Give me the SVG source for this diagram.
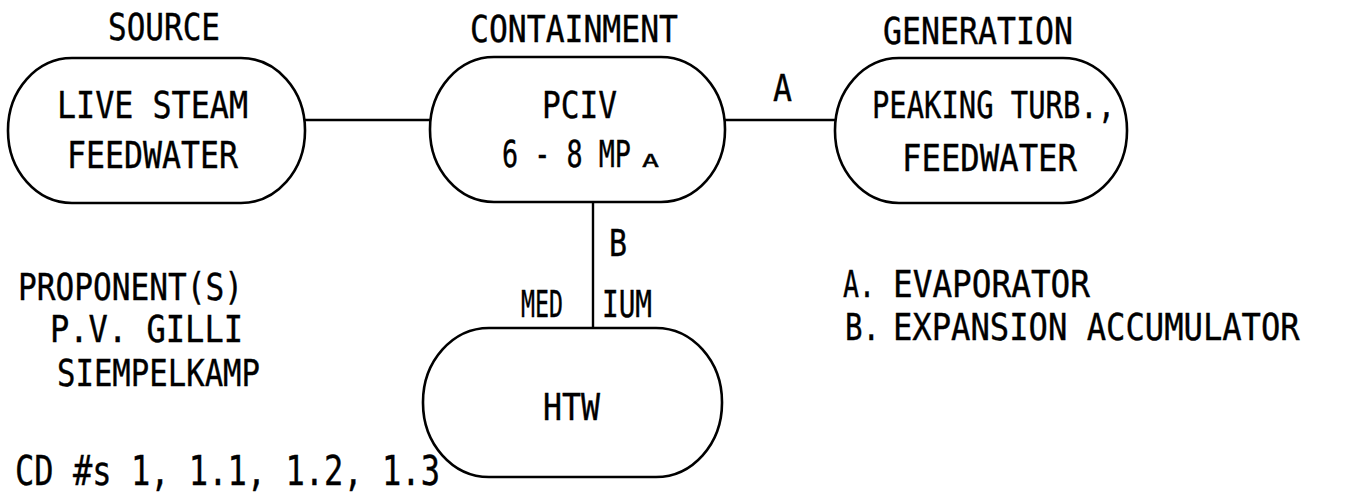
<svg xmlns="http://www.w3.org/2000/svg" width="1348" height="499" viewBox="0 0 1348 499">
<style>
.n{fill:#fff;stroke:#000;stroke-width:2.6}
.c{stroke:#000;stroke-width:2.4;fill:none}
text{font-family:"DejaVu Sans Mono","Liberation Mono",monospace;font-size:37px;fill:#000;stroke:#000;stroke-width:0.4}
.big{font-size:41px}
.sm{font-size:17px}
</style>
<rect width="1348" height="499" fill="#fff"/>
<g id="connectors">
<line class="c" x1="305" y1="120" x2="431" y2="120"/>
<line class="c" x1="725" y1="120" x2="836" y2="120"/>
<line class="c" x1="593" y1="201" x2="593" y2="329"/>
<text x="773" y="101" textLength="19" lengthAdjust="spacingAndGlyphs">A</text>
<text x="609" y="256" textLength="18" lengthAdjust="spacingAndGlyphs">B</text>
<text x="521" y="317" textLength="42" lengthAdjust="spacingAndGlyphs">MED</text>
<text x="602" y="317" textLength="50" lengthAdjust="spacingAndGlyphs">IUM</text>
</g>
<g id="source">
<text x="108" y="40" textLength="112" lengthAdjust="spacingAndGlyphs">SOURCE</text>
<rect class="n" x="8" y="58" width="297" height="145" rx="64" ry="72"/>
<text x="57" y="118" textLength="191" lengthAdjust="spacingAndGlyphs">LIVE STEAM</text>
<text x="67" y="168" textLength="171" lengthAdjust="spacingAndGlyphs">FEEDWATER</text>
</g>
<g id="containment">
<text x="470" y="42" textLength="208" lengthAdjust="spacingAndGlyphs">CONTAINMENT</text>
<rect class="n" x="430" y="57" width="295" height="145" rx="64" ry="72"/>
<text x="542" y="118" textLength="75" lengthAdjust="spacingAndGlyphs">PCIV</text>
<text transform="translate(502,167) scale(0.7235,1)" x="0" y="0">6 - 8 MP</text>
<text x="642" y="167" class="sm" textLength="17" lengthAdjust="spacingAndGlyphs">A</text>
</g>
<g id="generation">
<text x="883" y="44" textLength="190" lengthAdjust="spacingAndGlyphs">GENERATION</text>
<rect class="n" x="835" y="58" width="292" height="145" rx="64" ry="72"/>
<text x="872" y="118" textLength="243" lengthAdjust="spacingAndGlyphs">PEAKING TURB.,</text>
<text x="902" y="171" textLength="175" lengthAdjust="spacingAndGlyphs">FEEDWATER</text>
</g>
<g id="medium">
<rect class="n" x="423" y="328" width="299" height="149" rx="66" ry="74"/>
<text x="543" y="420" textLength="57" lengthAdjust="spacingAndGlyphs">HTW</text>
</g>
<g id="proponents">
<text x="18" y="300" textLength="225" lengthAdjust="spacingAndGlyphs">PROPONENT(S)</text>
<text x="50" y="342" textLength="193" lengthAdjust="spacingAndGlyphs">P.V. GILLI</text>
<text x="57" y="386" textLength="203" lengthAdjust="spacingAndGlyphs">SIEMPELKAMP</text>
<text class="big" x="15" y="485" textLength="425" lengthAdjust="spacingAndGlyphs">CD #s 1, 1.1, 1.2, 1.3</text>
</g>
<g id="legend">
<text x="843" y="297" textLength="32" lengthAdjust="spacingAndGlyphs">A.</text>
<text x="893" y="297" textLength="197" lengthAdjust="spacingAndGlyphs">EVAPORATOR</text>
<text x="845" y="340" textLength="35" lengthAdjust="spacingAndGlyphs">B.</text>
<text transform="translate(893,340) scale(0.870,1)" x="0" y="0">EXPANSION ACCUMULATOR</text>
</g>
</svg>
